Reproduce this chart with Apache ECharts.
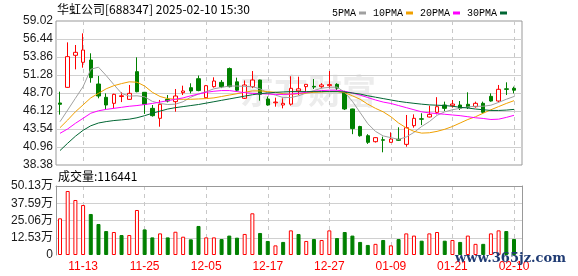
<!DOCTYPE html>
<html><head><meta charset="utf-8">
<script src="https://cdn.jsdelivr.net/npm/echarts@6/dist/echarts.min.js"></script>
<style>html,body{margin:0;padding:0;background:#fff}#c{width:578px;height:276px}</style>
</head><body><div id="c"></div><script>
const titleText = '华虹公司[688347] 2025-02-10 15:30';
const volTitle = '成交量:116441';
const dates = ['11-08','11-11','11-12','11-13','11-14','11-15','11-18','11-19','11-20','11-21','11-22','11-25','11-26','11-27','11-28','11-29',
'12-02','12-03','12-04','12-05','12-06','12-09','12-10','12-11','12-12','12-13','12-16','12-17','12-18','12-19','12-20','12-23','12-24','12-25','12-26','12-27','12-30','12-31',
'01-02','01-03','01-06','01-07','01-08','01-09','01-10','01-13','01-14','01-15','01-16','01-17','01-20','01-21','01-22','01-23','01-24','01-27',
'02-05','02-06','02-07','02-10'];
const opens = [47.27,49.51,54.10,53.10,53.43,49.99,48.08,47.22,48.2,47.79,51.76,48.8,46.5,45.07,47.79,47.46,48.75,49.46,50.75,48.03,49.61,50.23,52.2,50.3,47.94,49.61,50.56,47.84,47.3,46.98,47.1,49.0,49.61,49.65,49.61,49.75,49.94,48.8,46.41,43.9,42.58,41.72,42.0,41.63,42.06,41.34,44.02,45.0,45.26,45.93,46.98,46.88,46.98,47.08,46.74,47.22,48.22,47.55,49.3,49.37];
const closes = [47.08,53.91,54.53,54.86,50.9,48.27,46.98,48.51,48.3,48.65,48.89,47.08,45.45,47.08,47.55,48.27,48.99,48.99,49.05,49.75,50.42,49.61,49.61,49.1,49.85,50.56,48.51,46.98,47.4,47.22,49.37,49.3,49.94,49.56,49.85,49.9,49.4,46.41,43.6,42.58,41.63,42.3,41.93,42.1,41.92,43.73,45.07,44.95,45.64,46.74,46.5,47.12,46.5,46.65,47.22,45.93,47.55,49.23,49.22,49.1];
const lows = [45.6,49.45,52.09,52.33,50.18,47.94,46.26,46.5,47.4,47.75,48.8,45.7,45.31,43.87,47.36,46.02,48.41,48.65,48.95,48.0,49.47,49.4,49.5,48.95,47.84,49.4,47.6,46.88,46.74,46.5,46.9,48.41,48.95,49.27,49.37,49.37,49.13,46.26,42.8,42.44,41.4,41.6,40.2,41.6,41.82,41.0,43.73,44.1,45.2,45.64,46.12,46.6,46.26,46.41,46.6,45.79,47.46,47.36,48.41,48.65];
const highs = [48.89,55.96,55.58,57.25,54.39,51.14,48.65,48.6,48.8,49.85,53.81,48.85,46.98,47.7,48.41,49.27,49.75,50.09,51.2,49.85,50.95,50.56,52.35,50.9,50.5,51.85,50.6,48.2,48.03,47.94,51.1,51.04,49.94,50.7,50.1,51.85,50.1,49.0,46.45,44.0,42.8,42.35,42.44,43.06,43.78,45.55,45.64,45.8,46.88,48.1,47.46,47.7,47.55,48.8,47.46,47.46,48.65,49.85,50.23,49.61];
const ma5 = [44.59,46.26,47.94,49.61,52.1,52.4,51.2,49.9,48.65,48.25,48.3,48.15,47.5,47.2,47.05,47.1,47.45,48.1,48.55,48.9,49.3,49.5,49.7,49.7,49.65,49.6,49.3,48.7,48.4,48.05,48.05,48.3,48.7,49.05,49.4,49.5,49.55,48.8,47.5,45.9,44.3,43.2,42.55,42.3,42.05,42.4,43.05,43.9,44.6,45.5,46.0,46.3,46.5,46.7,46.8,46.8,46.95,47.35,47.8,48.2];
const ma10 = [43.73,44.83,46.0,47.0,48.0,48.65,49.3,49.75,50.05,50.3,50.25,49.7,48.8,48.2,47.9,47.8,47.8,47.8,47.85,47.9,48.0,48.2,48.4,48.6,48.8,49.0,49.0,48.9,48.8,48.6,48.5,48.6,48.7,48.8,48.85,48.9,48.9,48.75,48.3,47.8,47.1,46.5,46.0,45.3,44.4,43.7,43.2,42.95,43.0,43.2,43.5,43.9,44.4,44.9,45.3,45.8,46.3,46.75,47.2,47.6];
const ma20 = [42.92,43.55,44.35,45.07,45.8,46.15,46.35,46.5,46.65,46.8,46.9,47.05,47.2,47.4,47.6,47.8,48.0,48.3,48.55,48.8,48.95,49.05,49.05,48.9,48.75,48.65,48.6,48.55,48.5,48.5,48.55,48.65,48.8,48.95,49.05,49.1,49.1,48.95,48.7,48.4,48.05,47.7,47.4,47.2,46.9,46.6,46.3,46.0,45.85,45.75,45.65,45.55,45.45,45.3,45.15,45.05,44.9,44.95,45.2,45.5];
const ma30 = [40.45,41.5,42.5,43.35,44.0,44.4,44.6,44.75,44.85,44.95,45.15,45.45,45.8,46.1,46.4,46.6,46.75,46.9,47.05,47.25,47.45,47.65,47.85,48.05,48.25,48.45,48.6,48.7,48.8,48.85,48.9,48.9,48.9,48.9,48.9,48.9,48.9,48.85,48.7,48.55,48.3,48.1,47.9,47.7,47.5,47.35,47.22,47.1,47.0,46.95,46.9,46.8,46.65,46.55,46.4,46.3,46.2,46.2,46.25,46.35];
const volumes = [26.65,46.5,39.96,36.3,29.8,22.5,17.4,16.7,14.5,14.5,32.7,18.6,12.8,15.7,12.8,16.9,13.3,11.4,21.1,12.8,12.8,11.6,14.1,12.6,15.3,30.3,16.0,10.2,7.0,9.5,17.9,15.26,10.2,11.6,10.9,17.9,12.3,16.7,14.1,9.5,7.3,8.1,10.9,7.0,11.6,15.7,14.1,10.4,15.7,16.7,10.4,10.9,9.5,14.1,8.1,8.1,15.7,17.9,17.4,11.64];
const volUp = [1,1,1,1,0,0,0,1,0,1,1,0,0,1,0,1,1,0,0,1,1,0,0,0,1,1,0,0,1,0,1,0,1,0,1,1,0,0,0,0,0,1,0,1,0,1,1,0,1,1,0,1,0,1,1,0,1,1,0,0];
const priceTickLabels = ['38.38','40.96','43.54','46.12','48.70','51.28','53.86','56.44','59.02'];
const volTickLabels = ['0','12.53万','25.06万','37.59万','50.13万'];
const maNames = ['5PMA','10PMA','20PMA','30PMA'];

const priceMin = parseFloat(priceTickLabels[0]);
const priceMax = parseFloat(priceTickLabels[priceTickLabels.length-1]);
const priceStep = (priceMax - priceMin) / (priceTickLabels.length - 1);
const volMax = parseFloat(volTickLabels[volTickLabels.length-1]);
const volStep = volMax / (volTickLabels.length - 1);

const RED = '#ff0000', GREEN = '#008000';
const maColors = ['#a0a0a0', '#f0a000', '#ff00ff', '#006633'];
const markEvery = (idx) => (idx - 3) % 8 === 0;

const chart = echarts.init(document.getElementById('c'));
const candleData = dates.map((d, i) => [opens[i], closes[i], lows[i], highs[i]]);
const volData = volumes.map((v, i) => ({
  value: v,
  itemStyle: volUp[i] ? {color: '#ffffff', borderColor: RED, borderWidth: 1} : {color: GREEN, borderColor: GREEN, borderWidth: 1}
}));
const maData = [ma5, ma10, ma20, ma30];

const lblFont = {fontFamily: 'Liberation Sans, "Noto Sans CJK SC"', fontSize: 12, color: '#1a1a1a'};

const option = {
  animation: false,
  legend: {
    data: maNames, right: 66, top: 3, align: 'right', icon: 'rect',
    itemWidth: 7, itemHeight: 3, itemGap: 7, selectedMode: false,
    textStyle: {fontFamily: 'Liberation Mono', fontSize: 10, color: '#000', padding: [0, -2, 0, 0]}
  },
  grid: [
    {left: 60, top: 21, width: 454, height: 144},
    {left: 56, top: 21, width: 466, height: 144, show: true, borderColor: '#999', borderWidth: 1, backgroundColor: 'transparent'},
    {left: 60, top: 186, width: 454, height: 69},
    {left: 56, top: 186, width: 466, height: 69}
  ],
  xAxis: [
    {gridIndex: 0, type: 'category', data: dates, boundaryGap: false,
     axisLine: {show: false}, axisTick: {show: false}, axisLabel: {show: false},
     splitLine: {show: true, interval: markEvery, lineStyle: {color: '#c8c8c8', type: [4, 4]}}},
    {gridIndex: 1, type: 'value', show: false},
    {gridIndex: 2, type: 'category', data: dates, boundaryGap: false,
     axisLine: {show: false}, axisTick: {show: false},
     axisLabel: {interval: markEvery, color: '#ff0000', fontSize: 12, fontFamily: 'Liberation Sans', margin: 6},
     splitLine: {show: true, interval: markEvery, lineStyle: {color: '#c8c8c8', type: [4, 4]}}},
    {gridIndex: 3, type: 'value', position: 'top',
     axisLine: {show: true, onZero: false, lineStyle: {color: '#999'}},
     axisTick: {show: false}, axisLabel: {show: false}, splitLine: {show: false}}
  ],
  yAxis: [
    {gridIndex: 0, type: 'value', min: priceMin, max: priceMax, show: false},
    {gridIndex: 1, type: 'value', min: priceMin, max: priceMax, interval: priceStep,
     axisLine: {show: false}, axisTick: {show: false},
     axisLabel: Object.assign({margin: 3, formatter: v => priceTickLabels[Math.round((v - priceMin) / priceStep)] || ''}, lblFont),
     splitLine: {show: true, showMinLine: false, showMaxLine: false, lineStyle: {color: '#d0d0d0'}}},
    {gridIndex: 2, type: 'value', min: 0, max: volMax, show: false},
    {gridIndex: 3, type: 'value', min: 0, max: volMax, interval: volStep,
     axisLine: {show: true, onZero: false, lineStyle: {color: '#999'}}, axisTick: {show: false},
     axisLabel: Object.assign({margin: 3, formatter: v => volTickLabels[Math.round(v / volStep)] || ''}, lblFont),
     splitLine: {show: true, showMinLine: false, showMaxLine: false, lineStyle: {color: '#d0d0d0'}}},
    {gridIndex: 3, type: 'value', position: 'right', min: 0, max: volMax,
     axisLine: {show: true, onZero: false, lineStyle: {color: '#999'}}, axisTick: {show: false},
     axisLabel: {show: false}, splitLine: {show: false}}
  ],
  graphic: [
    {type: 'text', left: 57, top: 3, z: 100, style: {text: titleText, font: '12px "Noto Sans CJK SC"', fill: '#000'}},
    {type: 'text', left: 58, top: 170, z: 100, style: {text: volTitle, font: '12px "Noto Sans CJK SC"', fill: '#000'}},
    {type: 'text', left: 240, top: 74, z: -10, style: {text: '东方财富', font: 'bold 34px "Noto Sans CJK SC"', fill: '#ececec'}},
    {type: 'text', left: 455, top: 252, z: 100, style: {text: 'www.365jz.com', font: 'bold 13px "DejaVu Serif"', fill: '#1f3b73'}}
  ],
  series: maNames.map((n, k) => ({
    name: n, type: 'line', xAxisIndex: 0, yAxisIndex: 0, data: maData[k],
    symbol: 'none', lineStyle: {width: 1, color: maColors[k]}, itemStyle: {color: maColors[k]}
  })).concat([
    {type: 'candlestick', xAxisIndex: 0, yAxisIndex: 0, data: candleData, barWidth: 4, clip: false,
     itemStyle: {color: '#ffffff', color0: GREEN, borderColor: RED, borderColor0: GREEN, borderWidth: 1}},
    {type: 'bar', xAxisIndex: 2, yAxisIndex: 2, data: volData, barWidth: 4, clip: false}
  ])
};
chart.setOption(option);
</script></body></html>
